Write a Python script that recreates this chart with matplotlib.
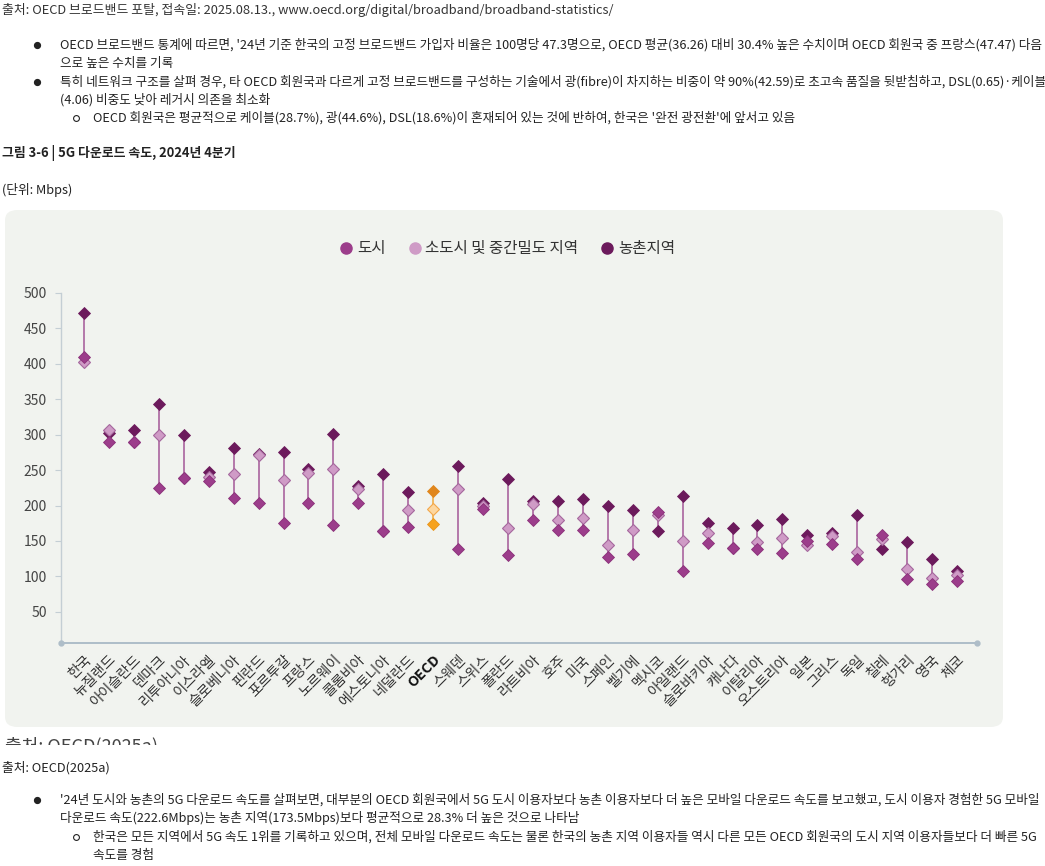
import matplotlib
matplotlib.use("Agg")
import matplotlib.pyplot as plt
from matplotlib.patches import FancyBboxPatch, Rectangle
from matplotlib.lines import Line2D

plt.rcParams["font.family"] = ["Noto Sans CJK KR", "DejaVu Sans"]

W, H = 1045, 866

countries = [
    "한국", "뉴질랜드", "아이슬란드", "덴마크", "리투아니아", "이스라엘", "슬로베니아", "핀란드",
    "포르투갈", "프랑스", "노르웨이", "콜롬비아", "에스토니아", "네덜란드", "OECD", "스웨덴",
    "스위스", "폴란드", "라트비아", "호주", "미국", "스페인", "벨기에", "멕시코", "아일랜드",
    "슬로바키아", "캐나다", "이탈리아", "오스트리아", "일본", "그리스", "독일", "칠레", "헝가리",
    "영국", "체코",
]
city = [409, 289, 289, 225, 239, 235, 211, 203, 175, 203, 172, 203, 164, 170, 174, 139, 195, 130,
        179, 165, 166, 128, 132, 191, 107, 147, 140, 138, 133, 150, 146, 124, 158, 96, 89, 93]
semi_urban = [402, 306, 290, 299, 239, 240, 245, 271, 236, 246, 252, 223, 164, 194, 195, 223, 199, 169,
              202, 179, 182, 145, 165, 186, 150, 161, 140, 149, 154, 145, 157, 135, 153, 110, 98, 102]
rural = [472, 302, 307, 344, 299, 248, 281, 273, 276, 251, 301, 227, 245, 219, 221, 256, 203, 238,
         206, 207, 209, 200, 194, 164, 214, 176, 169, 172, 181, 159, 161, 187, 139, 148, 124, 108]
yticks = [50, 100, 150, 200, 250, 300, 350, 400, 450, 500]
legend_labels = ["도시", "소도시 및 중간밀도 지역", "농촌지역"]

CITY_CLR, SEMI_CLR, RURAL_CLR = "#9c3d8b", "#cf9bc6", "#6c1a5c"
OECD_CLRS = ("#f6a21e", "#fdd7a0", "#e0861c")
LINE_CLR = "#a35797"
TEXT_CLR = "#222222"


def fx(px):
    return px / W


def fy(py):
    return 1 - py / H


fig = plt.figure(figsize=(W / 100, H / 100), dpi=100)
fig.patch.set_facecolor("white")

# --- body text above the chart
body_fs = 9.12
fig.text(fx(2), fy(10), "출처: OECD 브로드밴드 포탈, 접속일: 2025.08.13., www.oecd.org/digital/broadband/broadband-statistics/",
         fontsize=9.25, color="#333333", va="center")

lines_top = [
    (45, 1, "OECD 브로드밴드 통계에 따르면, '24년 기준 한국의 고정 브로드밴드 가입자 비율은 100명당 47.3명으로, OECD 평균(36.26) 대비 30.4% 높은 수치이며 OECD 회원국 중 프랑스(47.47) 다음"),
    (64, 0, "으로 높은 수치를 기록"),
    (82, 1, "특히 네트워크 구조를 살펴 경우, 타 OECD 회원국과 다르게 고정 브로드밴드를 구성하는 기술에서 광(fibre)이 차지하는 비중이 약 90%(42.59)로 초고속 품질을 뒷받침하고, DSL(0.65)·케이블"),
    (100, 0, "(4.06) 비중도 낮아 레거시 의존을 최소화"),
    (118, 2, "OECD 회원국은 평균적으로 케이블(28.7%), 광(44.6%), DSL(18.6%)이 혼재되어 있는 것에 반하여, 한국은 '완전 광전환'에 앞서고 있음"),
]
lines_bottom = [
    (800, 1, "'24년 도시와 농촌의 5G 다운로드 속도를 살펴보면, 대부분의 OECD 회원국에서 5G 도시 이용자보다 농촌 이용자보다 더 높은 모바일 다운로드 속도를 보고했고, 도시 이용자 경험한 5G 모바일"),
    (818, 0, "다운로드 속도(222.6Mbps)는 농촌 지역(173.5Mbps)보다 평균적으로 28.3% 더 높은 것으로 나타남"),
    (837, 2, "한국은 모든 지역에서 5G 속도 1위를 기록하고 있으며, 전체 모바일 다운로드 속도는 물론 한국의 농촌 지역 이용자들 역시 다른 모든 OECD 회원국의 도시 지역 이용자들보다 더 빠른 5G"),
    (855, 3, "속도를 경험"),
]


def bullet_lines(rows):
    # kind: 1 = filled bullet, 2 = hollow sub bullet, 0 / 3 = continuation of level 1 / level 2
    for py, kind, txt in rows:
        if kind == 1:
            fig.add_artist(Line2D([fx(37)], [fy(py)], marker="o", ms=4.2, color=TEXT_CLR,
                                  transform=fig.transFigure))
        elif kind == 2:
            fig.add_artist(Line2D([fx(76)], [fy(py)], marker="o", ms=4.2, mfc="none", mec=TEXT_CLR, mew=0.8,
                                  transform=fig.transFigure))
        x0 = 60 if kind in (0, 1) else 93
        fig.text(fx(x0), fy(py), txt, fontsize=body_fs, color=TEXT_CLR, va="center")


bullet_lines(lines_top)
bullet_lines(lines_bottom)

fig.text(fx(2), fy(153), "그림 3-6 | 5G 다운로드 속도, 2024년 4분기", fontsize=9.3, fontweight="bold",
         color=TEXT_CLR, va="center")
fig.text(fx(2), fy(190), "(단위: Mbps)", fontsize=9.2, color=TEXT_CLR, va="center")

# --- chart panel
panel = FancyBboxPatch((fx(5), fy(727)), fx(998), (727 - 210) / H, boxstyle="round,pad=0,rounding_size=0.012",
                       transform=fig.transFigure, facecolor="#f1f3ef", edgecolor="none", zorder=-5)
fig.patches.append(panel)

# clipped source line under the panel
fig.text(fx(5), fy(737), "출처: OECD(2025a)", fontsize=13, color="#444444", va="top", zorder=1)
fig.patches.append(Rectangle((0, fy(757)), 1, (757 - 745) / H, transform=fig.transFigure,
                             facecolor="white", edgecolor="none", zorder=5))
fig.text(fx(2), fy(768), "출처: OECD(2025a)", fontsize=9.2, color=TEXT_CLR, va="center", zorder=6)

ax = fig.add_axes([fx(61), fy(643), fx(977 - 61), (643 - 293) / H])
ax.set_zorder(3)
ax.set_facecolor("none")
x = list(range(len(countries)))

for i in x:
    lo = min(city[i], semi_urban[i], rural[i])
    hi = max(city[i], semi_urban[i], rural[i])
    clr = "#f2a93a" if countries[i] == "OECD" else LINE_CLR
    ax.vlines(i, lo, hi, color=clr, lw=1.1, zorder=2)

ms = 6.0
for i in x:
    if countries[i] == "OECD":
        c_city, c_semi, c_rural = OECD_CLRS
        e_semi, e_city = "#f3a74a", "#e8951c"
    else:
        c_city, c_semi, c_rural = CITY_CLR, SEMI_CLR, RURAL_CLR
        e_semi, e_city = "#a5679d", "#8a3079"
    ax.plot(i, rural[i], marker="D", ms=ms, mfc=c_rural, mec=c_rural, mew=0.6, zorder=3)
    ax.plot(i, semi_urban[i], marker="D", ms=ms, mfc=c_semi, mec=e_semi, mew=0.8, zorder=4)
    ax.plot(i, city[i], marker="D", ms=ms, mfc=c_city, mec=e_city, mew=0.6, zorder=5)

ax.set_xlim(-0.92, 35.8)
ax.set_ylim(6, 500)
ax.set_yticks(yticks)
ax.set_xticks(x)
ax.set_xticklabels(countries, rotation=45, ha="right", rotation_mode="anchor", fontsize=10.3, color="#333333")
for lbl in ax.get_xticklabels():
    if lbl.get_text() == "OECD":
        lbl.set_fontweight("bold")
        lbl.set_color("#111111")
ax.tick_params(axis="x", length=0, pad=7)
ax.tick_params(axis="y", length=4, width=0.8, color="#c4ced4", labelsize=10, labelcolor="#444444", pad=6)

for side in ("top", "right"):
    ax.spines[side].set_visible(False)
ax.spines["left"].set_color("#c4ced4")
ax.spines["bottom"].set_color("#aebdc8")
ax.spines["left"].set_linewidth(1.0)
ax.spines["bottom"].set_linewidth(1.4)
ax.plot([0, 1], [0, 0], transform=ax.transAxes, ls="none", marker="o", ms=3.5, color="#aebdc8",
        clip_on=False, zorder=6)

handles = [
    Line2D([], [], ls="none", marker="o", ms=8, color=c) for c in (CITY_CLR, SEMI_CLR, RURAL_CLR)
]
fig.legend(handles, legend_labels, loc="center", bbox_to_anchor=(fx(508), fy(249)), ncol=3, frameon=False,
           fontsize=11.2, handlelength=0.7, handletextpad=0.35, columnspacing=1.5, labelcolor="#333333")

fig.savefig("out.png", dpi=100)
